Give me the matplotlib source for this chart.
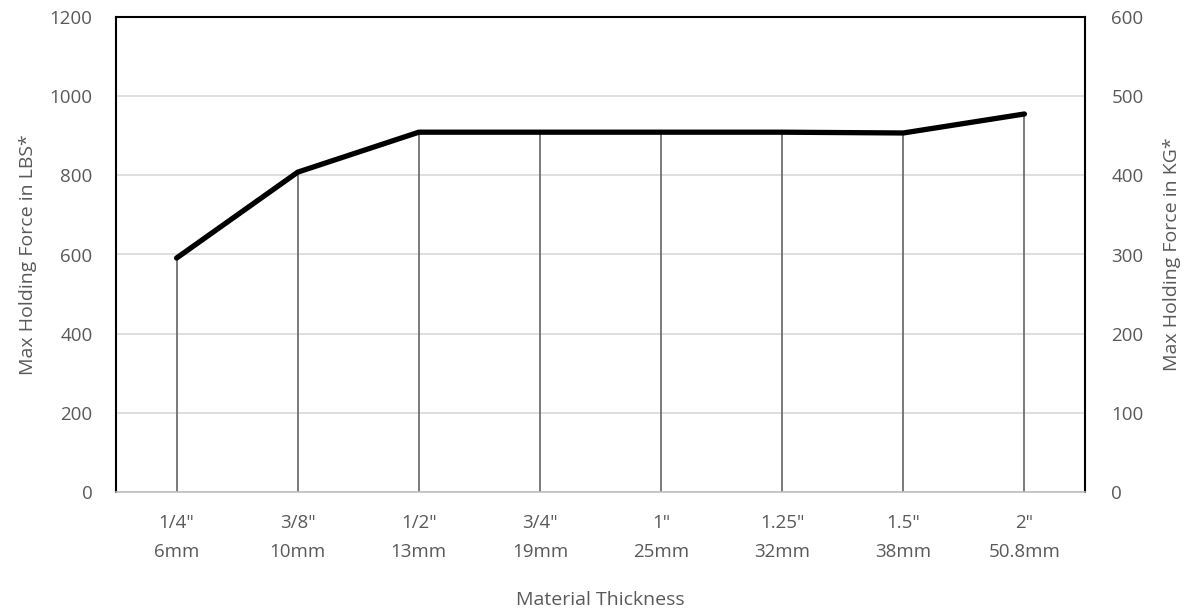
import matplotlib.pyplot as plt
import numpy as np

plt.rcParams['font.family'] = ['Open Sans', 'DejaVu Sans']

# data
inch_labels = ['1/4"', '3/8"', '1/2"', '3/4"', '1"', '1.25"', '1.5"', '2"']
mm_labels = ['6mm', '10mm', '13mm', '19mm', '25mm', '32mm', '38mm', '50.8mm']
force_lbs = [591, 808, 909, 909, 909, 909, 907, 955]

txt = '#595959'
x = np.arange(len(force_lbs))

fig = plt.figure(figsize=(11.9, 6.14), dpi=100)
ax = fig.add_axes([116/1190, 1 - 492/614, (1085-116)/1190, (492-17)/614])

ax.vlines(x, 0, force_lbs, color='#6f6f6f', linewidth=1.3, zorder=2)
ax.plot(x, force_lbs, color='black', linewidth=3.8, solid_capstyle='round',
        solid_joinstyle='round', zorder=3)

ax.set_xlim(-0.5, len(x) - 0.5)
ax.set_ylim(0, 1200)
ax.set_yticks(np.arange(0, 1201, 200))
ax.grid(axis='y', color='#d9d9d9', linewidth=1.2, zorder=0)
ax.set_axisbelow(True)

ax.set_xticks(x)
ax.set_xticklabels([f'{a}\n{b}' for a, b in zip(inch_labels, mm_labels)],
                   fontsize=13.5, color=txt, linespacing=1.8)
ax.tick_params(axis='x', length=0, pad=16)
ax.tick_params(axis='y', length=0, labelsize=13.5, labelcolor=txt, pad=17)

for s in ['left', 'top', 'right']:
    ax.spines[s].set_color('black')
    ax.spines[s].set_linewidth(1.5)
ax.spines['bottom'].set_color('#bfbfbf')
ax.spines['bottom'].set_linewidth(1.2)

ax.set_ylabel('Max Holding Force in LBS*', fontsize=14, color=txt, labelpad=9)
ax.set_xlabel('Material Thickness', fontsize=14, color=txt, labelpad=21)

ax2 = ax.twinx()
ax2.set_ylim(0, 600)
ax2.set_yticks(np.arange(0, 601, 100))
ax2.tick_params(axis='y', length=0, labelsize=13.5, labelcolor=txt, pad=19)
for s in ax2.spines.values():
    s.set_visible(False)
ax2.set_ylabel('Max Holding Force in KG*', fontsize=14, color=txt, labelpad=14)

fig.savefig('out.png', dpi=100)
